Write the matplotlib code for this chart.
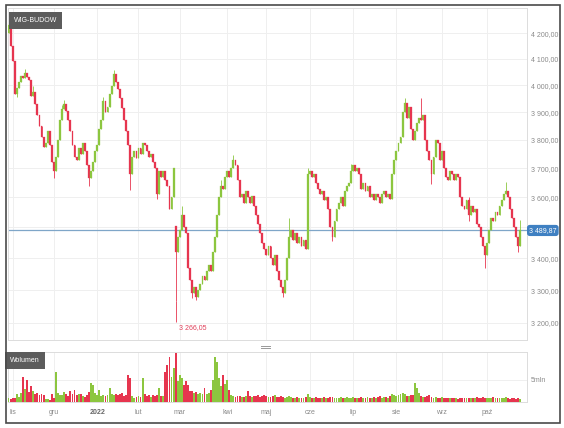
import matplotlib.pyplot as plt
import matplotlib.ticker as mticker
import matplotlib.transforms as mtransforms
from matplotlib.lines import Line2D
from matplotlib.patches import Rectangle
import numpy as np
import pandas as pd

plt.rcParams["font.family"] = ["Liberation Sans", "DejaVu Sans"]

# --- data ---
title = "WIG-BUDOW"
volume_title = "Wolumen"
start_date = "2021-10-28"
holidays = ["2021-11-01", "2021-11-11", "2021-12-24", "2021-12-31", "2022-01-06",
            "2022-04-15", "2022-04-18", "2022-05-03", "2022-06-16", "2022-08-15"]

first_open = 4200
close = [
    4230, 4150, 4090, 3965, 3990, 4010, 4035, 4025, 4045, 4030,
    4020, 3960, 3975, 3930, 3890, 3850, 3810, 3775, 3790, 3830,
    3780, 3720, 3690, 3740, 3800, 3870, 3910, 3930, 3905, 3870,
    3830, 3780, 3740, 3730, 3770, 3750, 3790, 3760, 3710, 3665,
    3690, 3720, 3760, 3780, 3840, 3870, 3940, 3900, 3920, 3965,
    3995, 4040, 4010, 3985, 3950, 3915, 3870, 3830, 3780, 3680,
    3740, 3760, 3735, 3770, 3750, 3790, 3780, 3760, 3740, 3750,
    3720, 3700, 3610, 3690, 3670, 3690, 3660, 3640, 3560, 3600,
    3700, 3420, 3470, 3490, 3540, 3500, 3480, 3370, 3330, 3290,
    3310, 3280, 3300, 3320, 3345, 3330, 3360, 3380, 3360, 3420,
    3470, 3540, 3600, 3640, 3630, 3670, 3690, 3670, 3700, 3730,
    3710, 3660, 3600, 3610, 3580, 3620, 3600, 3580, 3605, 3570,
    3540, 3510, 3480, 3450, 3430, 3410, 3440, 3400, 3380, 3410,
    3360, 3330, 3310, 3290, 3330, 3400, 3470, 3490, 3460, 3480,
    3450, 3470, 3440, 3460, 3430, 3680, 3690, 3670, 3680, 3650,
    3630, 3610, 3620, 3590, 3600, 3560, 3500, 3470, 3520, 3560,
    3580, 3600, 3570, 3620, 3640, 3650, 3690, 3710, 3690, 3700,
    3680, 3630, 3650, 3620, 3640, 3600, 3610, 3590, 3610, 3600,
    3580, 3610, 3620, 3600, 3610, 3595, 3680, 3730, 3760, 3790,
    3810, 3900, 3935, 3880, 3920, 3840, 3800, 3830, 3860, 3880,
    3870, 3890, 3800, 3760, 3730, 3680, 3740, 3800, 3790, 3730,
    3760, 3700, 3670, 3660, 3690, 3680, 3660, 3680, 3670, 3600,
    3570, 3560, 3590, 3540, 3570, 3550, 3560, 3510, 3500, 3470,
    3440, 3410, 3450, 3490, 3530, 3520, 3550, 3540, 3570, 3590,
    3610, 3620, 3600, 3560, 3530, 3500, 3470, 3440, 3489.87,
]
volume_mln = [
    0.8, 0.7, 0.9, 0.8, 1.8, 1.2, 2.0, 5.5, 3.0, 5.0,
    2.2, 3.5, 2.4, 1.8, 2.0, 1.6, 1.9, 1.5, 0.6, 0.7,
    0.5, 1.7, 1.0, 6.7, 2.0, 1.6, 1.5, 2.2, 1.7, 1.4,
    2.4, 1.8, 2.8, 1.5, 1.7, 1.9, 1.4, 1.2, 1.6, 2.3,
    4.3, 3.9, 2.0, 1.6, 2.8, 1.4, 1.6, 1.3, 1.5, 3.2,
    1.8, 1.5, 1.7, 1.6, 1.8, 2.0, 1.4, 1.5, 6.0, 5.4,
    1.3, 1.0, 1.2, 1.4, 1.1, 5.4, 1.7, 1.3, 1.5, 1.2,
    1.6, 1.3, 1.5, 3.2, 1.4, 1.3, 6.8, 8.3, 10.1, 5.7,
    7.6, 10.9, 4.6, 6.1, 5.4, 3.9, 4.6, 3.9, 2.4, 2.4,
    2.0, 2.2, 1.8, 2.0, 1.7, 3.2, 1.9, 2.0, 2.6, 5.0,
    10.1, 9.0, 5.4, 3.5, 6.1, 4.0, 5.0, 2.8, 1.6, 1.3,
    1.2, 1.4, 1.3, 1.2, 1.1, 1.3, 2.4, 1.3, 1.2, 1.4,
    1.3, 1.5, 1.2, 1.4, 1.6, 1.3, 1.2, 1.1, 1.3, 1.5,
    1.2, 1.1, 1.3, 1.2, 1.0, 1.2, 1.4, 1.1, 1.0, 0.9,
    1.1, 1.0, 0.9, 1.0, 1.1, 1.8, 1.2, 1.0, 0.9, 1.1,
    1.0, 0.9, 1.0, 1.1, 0.9, 1.0, 1.2, 1.1, 1.0, 0.9,
    1.0, 1.1, 0.9, 1.0, 1.2, 1.0, 0.9, 1.1, 1.0, 0.9,
    1.0, 1.2, 1.0, 0.9, 1.1, 1.0, 0.9, 1.2, 1.0, 1.1,
    1.3, 1.0, 1.1, 1.2, 1.0, 1.3, 1.7, 1.5, 1.4, 1.6,
    1.8, 2.0, 1.7, 1.4, 1.3, 1.5, 1.6, 4.3, 3.2, 2.0,
    1.3, 1.2, 1.1, 1.3, 1.5, 1.2, 1.0, 1.1, 0.9, 1.0,
    1.1, 0.9, 0.8, 0.9, 1.0, 0.8, 0.9, 0.8, 0.7, 0.9,
    1.0, 0.8, 0.9, 1.0, 0.8, 0.9, 1.0, 1.1, 0.9, 1.0,
    1.2, 0.9, 0.8, 1.0, 0.9, 1.1, 0.8, 0.9, 1.0, 0.8,
    0.9, 1.1, 0.8, 0.7, 0.9, 0.8, 0.7, 0.8, 0.6,
]
open_gaps = {81: 3505}
high_wicks = {0: 4258, 8: 4060, 12: 3995, 26: 3925, 27: 3945, 46: 3955, 51: 4058,
              84: 3570, 103: 3660, 109: 3745, 136: 3530, 145: 3700, 166: 3715,
              192: 3952, 200: 3950, 223: 3600, 241: 3652, 248: 3525}
low_wicks = {4: 3955, 22: 3665, 39: 3640, 59: 3624, 72: 3595, 81: 3266.05, 89: 3275,
             91: 3270, 133: 3280, 157: 3455, 205: 3645, 223: 3520, 231: 3370, 247: 3420}
low_idx, low_value = 81, 3266.05
last_price = 3489.87
price_ticks = [3200, 3300, 3400, 3500, 3600, 3700, 3800, 3900, 4000, 4100, 4200]
month_labels = {11: "lis", 12: "gru", 1: "2022", 2: "lut", 3: "mar", 4: "kwi",
                5: "maj", 6: "cze", 7: "lip", 8: "sie", 9: "wrz", 10: "paź"}

GREEN = "#8cc63f"
RED = "#e6354f"
GRID = "#efefef"
TXT = "#8a8a8a"
FS = 5


def pl(v):
    return f"{v:,.2f}".replace(",", " ").replace(".", ",")


# trading days
days = pd.bdate_range(start_date, periods=len(close) + 30)
days = days[~days.isin(pd.to_datetime(holidays))][:len(close)]
x = np.arange(len(close))
month_pos = [i for i in range(1, len(days)) if days[i].month != days[i - 1].month]
month_txt = [month_labels[days[i].month] for i in month_pos]

c = np.array(close, dtype=float)
o = np.concatenate([[first_open], c[:-1]])
for k, v in open_gaps.items():
    o[k] = v
hi = np.maximum(o, c)
lo = np.minimum(o, c)
for k, v in high_wicks.items():
    hi[k] = v
for k, v in low_wicks.items():
    lo[k] = v
colors = [GREEN if cc >= oo else RED for oo, cc in zip(o, c)]

W, H = 564, 428
fig = plt.figure(figsize=(W / 100, H / 100), dpi=100)
ax = fig.add_axes([8 / W, 1 - 340 / H, (527 - 8) / W, (340 - 8) / H])
axv = fig.add_axes([8 / W, 1 - 402 / H, (527 - 8) / W, (402 - 352) / H], sharex=ax)

# candles
ax.vlines(x, lo, hi, colors=colors, lw=0.6, zorder=3)
ax.bar(x, np.maximum(np.abs(c - o), 1.0), bottom=np.minimum(o, c), width=0.9,
       color=colors, edgecolor=colors, lw=0.2, zorder=3)

ax.set_yscale("log")
ax.set_ylim(3149, 4300)
ax.set_xlim(-0.25, 251.3)
ax.yaxis.set_major_locator(mticker.FixedLocator(price_ticks))
# the 3 500 label sits under the last-price box
ax.yaxis.set_major_formatter(mticker.FuncFormatter(
    lambda v, p: "" if abs(v - 3500) < 1 else pl(v)))
ax.yaxis.set_minor_locator(mticker.NullLocator())
ax.yaxis.tick_right()
ax.tick_params(axis="y", length=0, pad=3, labelsize=FS, labelcolor=TXT)
ax.tick_params(axis="x", length=0, labelbottom=False)
ax.set_xticks(month_pos)
ax.grid(True, color=GRID, lw=0.7)
ax.set_axisbelow(True)
for s in ax.spines.values():
    s.set_color("#dcdcdc")
    s.set_linewidth(0.7)

# last price line + label
ax.axhline(last_price, color="#7fa6c8", lw=0.9, zorder=2)
blend = mtransforms.blended_transform_factory(ax.transAxes, ax.transData)
ax.text(1.004, last_price, pl(last_price), transform=blend, va="center", ha="left",
        fontsize=FS, color="white", zorder=6, clip_on=False,
        bbox=dict(boxstyle="round,pad=0.3,rounding_size=0.4", fc="#3f80c2", ec="none"))

# min label
ax.vlines(low_idx, 3203, low_value, color=RED, lw=0.6, zorder=3)
ax.text(low_idx + 1.5, 3196, pl(low_value), color="#e0405a", fontsize=FS,
        va="top", ha="left", zorder=5)

ax.text(0.012, 0.972, title, transform=ax.transAxes, va="top", ha="left",
        fontsize=FS, color="white", zorder=6,
        bbox=dict(boxstyle="square,pad=0.7", fc="#5c5c5c", ec="none"))

# volume
axv.bar(x, volume_mln, width=0.9, color=colors, lw=0, zorder=3)
axv.set_ylim(0, 11.2)
axv.yaxis.tick_right()
axv.set_yticks([5])
axv.set_yticklabels(["5mln"])
axv.tick_params(axis="y", length=0, pad=3, labelsize=FS, labelcolor=TXT)
axv.tick_params(axis="x", length=0, pad=5, labelsize=FS, labelcolor=TXT)
axv.set_xticks(month_pos)
axv.set_xticklabels(month_txt)
for t in axv.get_xticklabels():
    if t.get_text() == "2022":
        t.set_fontweight("bold")
        t.set_color("#666666")
axv.grid(True, color=GRID, lw=0.7)
axv.set_axisbelow(True)
for s in axv.spines.values():
    s.set_color("#dcdcdc")
    s.set_linewidth(0.7)
axv.text(0.004, 0.9, volume_title, transform=axv.transAxes, va="top", ha="left",
         fontsize=FS, color="white", zorder=6,
         bbox=dict(boxstyle="square,pad=0.7", fc="#5c5c5c", ec="none"))

# pane separator handle
for yy in (345.5, 348):
    fig.add_artist(Line2D([261 / W, 270 / W], [1 - yy / H, 1 - yy / H],
                          color="#999999", lw=0.7, transform=fig.transFigure))

# outer frame
fig.add_artist(Rectangle((6 / W, 1 - 423 / H), (560 - 6) / W, (423 - 5) / H, fill=False,
                         ec="#4a4a4a", lw=1.2, transform=fig.transFigure))

fig.savefig("out.png", dpi=100)
